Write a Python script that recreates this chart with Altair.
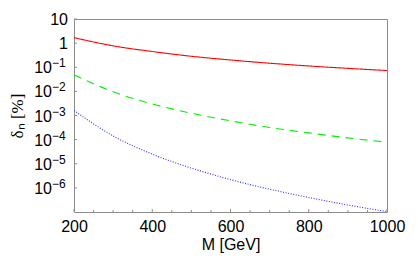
import altair as alt
import pandas as pd

# ---- data ----
mass = [200, 300, 400, 500, 600, 700, 800, 900, 1000]
red_vals = [1.69, 0.77, 0.45, 0.285, 0.20, 0.147, 0.113, 0.090, 0.073]
green_vals = [0.0485, 9.6e-3, 3.0e-3, 1.24e-3, 6.0e-4, 3.2e-4, 1.9e-4, 1.18e-4, 7.8e-5]
blue_vals = [1.62e-3, 1.42e-4, 2.5e-5, 6.6e-6, 2.2e-6, 8.8e-7, 4.0e-7, 1.95e-7, 1.04e-7]

x_major = [200, 400, 600, 800, 1000]
x_minor = [250, 300, 350, 450, 500, 550, 650, 700, 750, 850, 900, 950]
y_plain_vals = [10, 1]
y_plain_text = ["10", "1"]
y_pow_vals = [0.1, 1e-2, 1e-3, 1e-4, 1e-5, 1e-6]
y_pow_exp = ["\u22121", "\u22122", "\u22123", "\u22124", "\u22125", "\u22126"]

W, H = 313, 193
FONT = "Liberation Sans"

curves = pd.DataFrame({"M": mass, "red": red_vals, "green": green_vals, "blue": blue_vals})
xscale = alt.Scale(domain=[200, 1000], nice=False, zero=False)
yscale = alt.Scale(type="log", domain=[1e-7, 10], nice=False)

xaxis = alt.Axis(values=x_major, format="d", grid=False, ticks=False, domain=False,
                 labelFlush=False, labelOverlap=False,
                 labelFont=FONT, labelFontSize=16, labelColor="black", labelPadding=6,
                 title="M [GeV]", titleFont=FONT, titleFontSize=16, titleFontWeight="normal",
                 titleColor="black", titlePadding=2)
yaxis = alt.Axis(labels=False, ticks=False, domain=False, grid=False,
                 title="\u03b4\u2099 [%]", titleFont="Liberation Serif", titleFontSize=17,
                 titleFontWeight="normal", titleColor="black", titlePadding=48)

def line(col, color, dash):
    return alt.Chart(curves).mark_line(color=color, strokeWidth=1.1, strokeDash=dash,
                                       interpolate="monotone", clip=True).encode(
        x=alt.X("M:Q", scale=xscale, axis=xaxis),
        y=alt.Y(f"{col}:Q", scale=yscale, axis=yaxis),
    )

red = line("red", "#ff0000", [1, 0])
green = line("green", "#00f000", [8, 6])
blue = line("blue", "#3030ff", [1, 1.6])

xmaj = alt.Chart(pd.DataFrame({"t": x_major})).mark_rule(color="#8c8c8c", strokeWidth=1).encode(
    x=alt.X("t:Q", scale=xscale, axis=xaxis), y=alt.value(H), y2=alt.value(H - 3))
xmin = alt.Chart(pd.DataFrame({"t": x_minor})).mark_rule(color="#8c8c8c", strokeWidth=1).encode(
    x=alt.X("t:Q", scale=xscale, axis=xaxis), y=alt.value(H), y2=alt.value(H - 2))
ytk = alt.Chart(pd.DataFrame({"t": y_plain_vals + y_pow_vals})).mark_rule(color="#8c8c8c", strokeWidth=1).encode(
    y=alt.Y("t:Q", scale=yscale, axis=yaxis), x=alt.value(0), x2=alt.value(3))

plain = alt.Chart(pd.DataFrame({"v": y_plain_vals, "s": y_plain_text})).mark_text(
    align="right", baseline="middle", font=FONT, fontSize=16, color="black", dy=1).encode(
    y=alt.Y("v:Q", scale=yscale, axis=yaxis), x=alt.value(-6), text="s:N")
base = alt.Chart(pd.DataFrame({"v": y_pow_vals})).mark_text(
    align="right", baseline="middle", font=FONT, fontSize=16, color="black", dy=1).encode(
    y=alt.Y("v:Q", scale=yscale, axis=yaxis), x=alt.value(-22), text=alt.value("10"))
expo = alt.Chart(pd.DataFrame({"v": y_pow_vals, "e": y_pow_exp})).mark_text(
    align="left", baseline="middle", font=FONT, fontSize=12, color="black", dy=-4).encode(
    y=alt.Y("v:Q", scale=yscale, axis=yaxis), x=alt.value(-22), text="e:N")

chart = alt.layer(red, green, blue, xmaj, xmin, ytk, plain, base, expo).properties(
    width=W, height=H, autosize="none",
    padding={"left": 66, "top": 11, "right": 23, "bottom": 42},
).configure_view(stroke="#8c8c8c", strokeWidth=1)

chart.save("out.html", embed_options={"renderer": "svg", "actions": False})
